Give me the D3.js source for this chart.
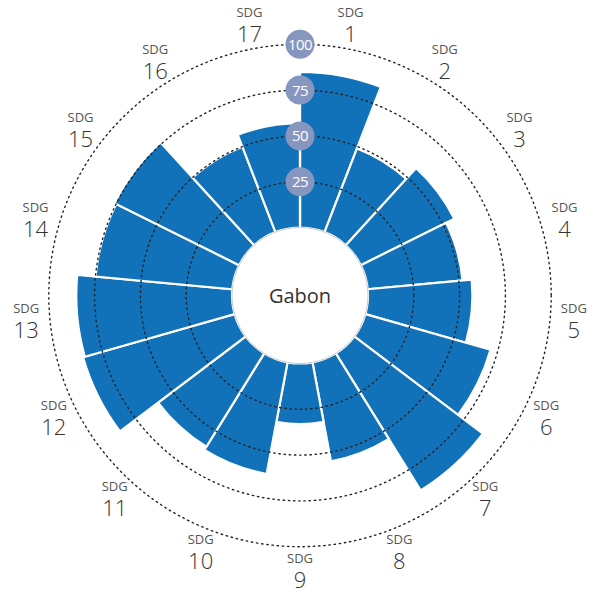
<!DOCTYPE html>
<html><head><meta charset="utf-8">
<script src="https://cdn.jsdelivr.net/npm/d3@7"></script>
<style>body{margin:0;background:#fff;}svg{display:block;font-family:"Open Sans","Noto Sans",sans-serif;}</style>
</head><body>
<svg id="c" width="598" height="592"></svg>
<script>
const country = "Gabon";
const goals = ["1","2","3","4","5","6","7","8","9","10","11","12","13","14","15","16","17"];
const scores = [85, 49, 57, 52, 57, 71, 88, 55, 33, 62, 60, 86, 85, 75, 76, 50, 57];
const ringTicks = [25, 50, 75, 100];

const svg = d3.select("#c");
const cx = 300, cy = 295.5;
const inner = 68, outer = 251.2;
const g = svg.append("g").attr("transform", `translate(${cx},${cy})`);

const ang = d3.scaleBand().domain(goals).range([0, 2*Math.PI]).padding(0);
const rad = d3.scaleLinear().domain([0, 100]).range([inner, outer]);

const arc = d3.arc()
  .innerRadius(inner)
  .outerRadius(d => rad(d.v))
  .startAngle(d => ang(d.k))
  .endAngle(d => ang(d.k) + ang.bandwidth());

const data = goals.map((k, i) => ({k, v: scores[i]}));

g.append("g").selectAll("path").data(data).join("path")
  .attr("d", arc)
  .attr("fill", "#1172BA")
  .attr("stroke", "#fff")
  .attr("stroke-width", 2.2)
  .attr("stroke-linejoin", "miter");

// dotted rings
g.append("g").selectAll("circle").data(ringTicks).join("circle")
  .attr("r", d => rad(d))
  .attr("fill", "none")
  .attr("stroke", "#222")
  .attr("stroke-width", 1.4)
  .attr("stroke-dasharray", "1.4,3.8")
  .attr("stroke-linecap", "round");

// inner circle
g.append("circle").attr("r", inner).attr("fill", "#fff").attr("stroke", "#bbb").attr("stroke-width", 0.8);
g.append("text").attr("text-anchor", "middle").attr("dy", "0.35em")
  .attr("font-size", 20).attr("fill", "#333").text(country);

// white axis line from inner to 100
g.append("line").attr("x1", 0).attr("x2", 0).attr("y1", -inner).attr("y2", -rad(100))
  .attr("stroke", "#fff").attr("stroke-width", 2.2);

// tick badges
const badge = g.append("g").selectAll("g").data(ringTicks).join("g")
  .attr("transform", d => `translate(0,${-rad(d)})`);
badge.append("circle").attr("r", 14.5).attr("fill", "#8796BE");
badge.append("text").attr("text-anchor", "middle").attr("dy", "0.36em")
  .attr("font-size", 15).attr("fill", "#fff").attr("letter-spacing", "-0.5")
  .text(d => d);

// goal labels
const labR = 275;
const lab = g.append("g").selectAll("g").data(goals).join("g")
  .attr("transform", d => {
    const a = ang(d) + ang.bandwidth()/2;
    return `translate(${labR*Math.sin(a)},${-labR*Math.cos(a)})`;
  });
lab.append("text").attr("text-anchor", "middle").attr("y", -8)
  .attr("font-size", 13).attr("fill", "#555").text("SDG");
lab.append("text").attr("text-anchor", "middle").attr("y", 17)
  .attr("font-size", 22).attr("fill", "#333").attr("font-weight", 300).text(d => d);
</script>
</body></html>
